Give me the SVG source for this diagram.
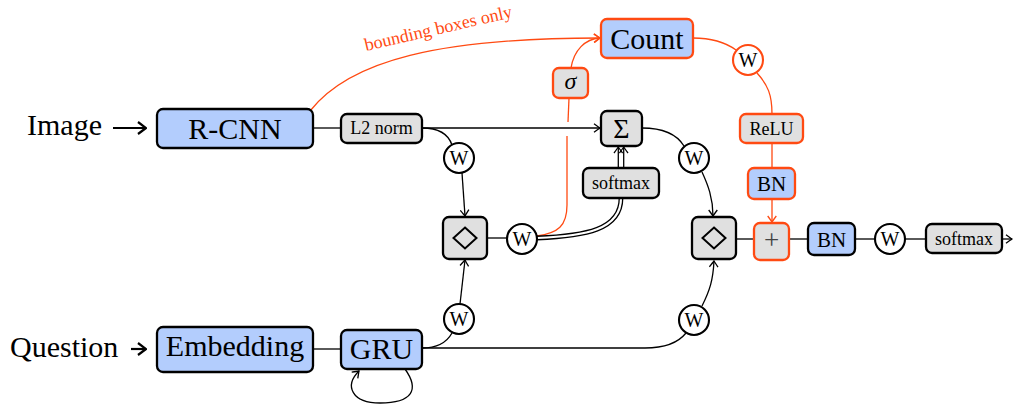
<svg xmlns="http://www.w3.org/2000/svg" width="1013" height="404" viewBox="0 0 1013 404">
<style>
text{font-family:"Liberation Serif","Times New Roman",serif;fill:#000;text-anchor:middle}
.blue{fill:#b3cdfd;stroke:#000;stroke-width:2.3}
.gray{fill:#e0e0e0;stroke:#000;stroke-width:2.3}
.oblue{fill:#b3cdfd;stroke:#ff4a12;stroke-width:2.3}
.ogray{fill:#e0e0e0;stroke:#ff4a12;stroke-width:2.3}
.w{fill:#fff;stroke:#000;stroke-width:2.1}
.ow{fill:#fff;stroke:#ff4a12;stroke-width:2.1}
.ln{fill:none;stroke:#000;stroke-width:1.3}
.oln{fill:none;stroke:#ff4a12;stroke-width:1.3}
.dia{fill:none;stroke:#000;stroke-width:2}
.big{font-size:30px}
.mid{font-size:21px}
.sm{font-size:18px}
.wl{font-size:20px}
</style>
<defs>
<marker id="a" viewBox="-7 -5 8 10" refX="0" refY="0" markerWidth="8" markerHeight="10" orient="auto" markerUnits="userSpaceOnUse">
<path d="M-6,-4.3 Q-1.5,-1 0,0 Q-1.5,1 -6,4.3" fill="none" stroke="#000" stroke-width="1.3"/>
</marker>
<marker id="ao" viewBox="-7 -5 8 10" refX="0" refY="0" markerWidth="8" markerHeight="10" orient="auto" markerUnits="userSpaceOnUse">
<path d="M-6,-4.3 Q-1.5,-1 0,0 Q-1.5,1 -6,4.3" fill="none" stroke="#ff4a12" stroke-width="1.3"/>
</marker>
<marker id="ab" viewBox="-10 -7 11 14" refX="0" refY="0" markerWidth="11" markerHeight="14" orient="auto" markerUnits="userSpaceOnUse">
<path d="M-8,-6 Q-2,-1.5 0,0 Q-2,1.5 -8,6" fill="none" stroke="#000" stroke-width="2.2"/>
</marker>
</defs>

<g id="connectors">
<line x1="113" y1="128" x2="146" y2="128" stroke="#000" stroke-width="2.2" marker-end="url(#ab)"/>
<line x1="131" y1="349" x2="146" y2="349" stroke="#000" stroke-width="2.2" marker-end="url(#ab)"/>
<line class="ln" x1="313" y1="128" x2="341" y2="128"/>
<path class="oln" d="M537 236 C558 233 567 226 567 205 L567 136"/>
<line class="oln" x1="568" y1="122" x2="569" y2="98"/>
<line class="ln" x1="422" y1="128" x2="600" y2="128" marker-end="url(#a)"/>
<path class="ln" d="M422 128 C438 128 448 133 452 145"/>
<path class="ln" d="M462 173 L465 216" marker-end="url(#a)"/>
<line class="ln" x1="487" y1="238" x2="507" y2="238"/>
<path d="M537 238 C585 236 621 230 621 198" fill="none" stroke="#000" stroke-width="4.8"/>
<path d="M537 238 C585 236 621 230 621 198" fill="none" stroke="#fff" stroke-width="2.2"/>
<line x1="618.3" y1="168" x2="618.3" y2="147" class="ln" marker-end="url(#a)"/>
<line x1="623.7" y1="168" x2="623.7" y2="147" class="ln" marker-end="url(#a)"/>
<path class="ln" d="M642 128 C662 128 676 133 684 146"/>
<path class="ln" d="M702 172 C708 185 713 198 713 216" marker-end="url(#a)"/>
<line class="ln" x1="313" y1="349" x2="341" y2="349"/>
<path class="ln" d="M405 369 C420 390 412 403 380 403 C352 403 344 386 359 371" marker-end="url(#a)"/>
<path class="ln" d="M422 348 C438 348 447 342 452 333"/>
<path class="ln" d="M422 348 L645 348 C665 348 678 343 686 333"/>
<path class="ln" d="M460 304 L465 260" marker-end="url(#a)"/>
<path class="ln" d="M702 306 C710 290 713 280 714 261" marker-end="url(#a)"/>
<path class="oln" d="M310 111 C350 60 440 38 600 38" marker-end="url(#ao)"/>
<path class="oln" d="M571 68 C574 50 585 39 600 38" marker-end="url(#ao)"/>
<path class="oln" d="M693 38 C710 38 725 42 736 50"/>
<path class="oln" d="M757 73 C768 85 772 95 772 114"/>
<line class="oln" x1="772" y1="143" x2="772" y2="168"/>
<line class="oln" x1="772" y1="199" x2="772" y2="222" marker-end="url(#ao)"/>
<line class="ln" x1="736" y1="239" x2="754" y2="239"/>
<line class="ln" x1="789" y1="239" x2="808" y2="239"/>
<line class="ln" x1="855" y1="239" x2="875" y2="239"/>
<line class="ln" x1="905" y1="239" x2="926" y2="239"/>
<line class="ln" x1="1002" y1="239" x2="1012" y2="239" marker-end="url(#a)"/>
</g>

<text x="27" y="135" class="big" style="text-anchor:start">Image</text>
<text x="10" y="357" class="big" style="text-anchor:start">Question</text>
<text x="0" y="0" transform="translate(366,51) rotate(-13)" style="text-anchor:start;font-size:18px;fill:#ff4a12">bounding boxes only</text>

<g id="rcnn"><rect class="blue" x="157" y="109" width="156" height="39" rx="6"/><text x="235" y="139" class="big">R-CNN</text></g>
<g id="l2norm"><rect class="gray" x="341" y="114" width="81" height="29" rx="6"/><text x="381.5" y="134" class="sm">L2 norm</text></g>
<g id="count"><rect class="oblue" x="601" y="19" width="92" height="39" rx="6"/><text x="647" y="49" class="big">Count</text></g>
<g id="sigma"><rect class="ogray" x="553" y="68" width="35" height="30" rx="6"/><text x="570.5" y="89" style="font-size:24px;font-style:italic">σ</text></g>
<g id="sum"><rect class="gray" x="601" y="111" width="41" height="35" rx="6"/><text x="621.5" y="138" style="font-size:28px">Σ</text></g>
<g id="softmax1"><rect class="gray" x="583" y="168" width="76" height="30" rx="6"/><text x="621" y="189" class="sm">softmax</text></g>
<g id="w1"><circle class="w" cx="459" cy="158" r="15"/><text x="459" y="165" class="wl">W</text></g>
<g id="diamond1"><rect class="gray" x="443" y="217" width="44" height="42" rx="6"/><path class="dia" d="M465 227.5 L476.5 238 L465 248.5 L453.5 238 Z"/></g>
<g id="w2"><circle class="w" cx="522" cy="239" r="15"/><text x="522" y="246" class="wl">W</text></g>
<g id="w3"><circle class="w" cx="694" cy="158" r="15"/><text x="694" y="165" class="wl">W</text></g>
<g id="diamond2"><rect class="gray" x="692" y="217" width="44" height="42" rx="6"/><path class="dia" d="M714 227.5 L725.5 238 L714 248.5 L702.5 238 Z"/></g>
<g id="w4"><circle class="ow" cx="748" cy="60" r="15"/><text x="748" y="67" class="wl">W</text></g>
<g id="relu"><rect class="ogray" x="740" y="114" width="63" height="29" rx="6"/><text x="771.5" y="135" class="sm">ReLU</text></g>
<g id="bn1"><rect class="oblue" x="748" y="168" width="47" height="31" rx="6"/><text x="771.5" y="191" class="mid">BN</text></g>
<g id="plus"><rect class="ogray" x="754" y="223" width="35" height="37" rx="6"/><text x="771.5" y="249" style="font-size:27px;fill:#444">+</text></g>
<g id="bn2"><rect class="blue" x="808" y="223" width="47" height="32" rx="6"/><text x="831.5" y="246.5" class="mid">BN</text></g>
<g id="w5"><circle class="w" cx="890" cy="239" r="15"/><text x="890" y="246" class="wl">W</text></g>
<g id="softmax2"><rect class="gray" x="926" y="224" width="76" height="29" rx="6"/><text x="964" y="245" class="sm">softmax</text></g>
<g id="embedding"><rect class="blue" x="157" y="327" width="156" height="45" rx="6"/><text x="235" y="356" class="big">Embedding</text></g>
<g id="gru"><rect class="blue" x="341" y="330" width="81" height="39" rx="6"/><text x="381.5" y="359" class="big">GRU</text></g>
<g id="w6"><circle class="w" cx="459" cy="319" r="15"/><text x="459" y="326" class="wl">W</text></g>
<g id="w7"><circle class="w" cx="694" cy="320" r="15"/><text x="694" y="327" class="wl">W</text></g>
</svg>
